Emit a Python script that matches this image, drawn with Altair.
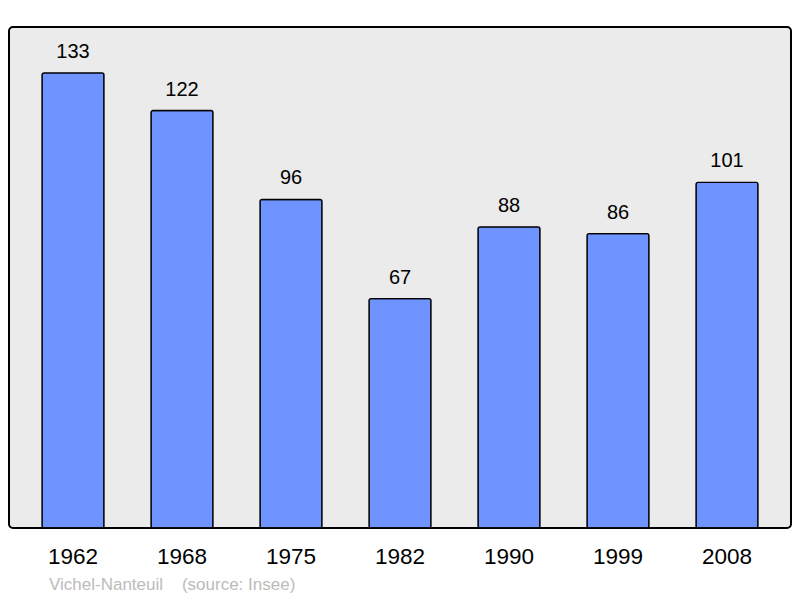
import altair as alt
import pandas as pd

years = ["1962", "1968", "1975", "1982", "1990", "1999", "2008"]
population = [133, 122, 96, 67, 88, 86, 101]
source_text = "Vichel-Nanteuil\u00a0\u00a0\u00a0\u00a0(source: Insee)"

df = pd.DataFrame({"year": years, "pop": population})

x = alt.X("year:N", sort=years, title=None,
          scale=alt.Scale(paddingInner=0.433, paddingOuter=0.29, round=True, align=0.5),
          axis=alt.Axis(labelAngle=0, ticks=False, domain=False, labelFontSize=22.5,
                        labelFont="Liberation Sans", labelColor="black", labelPadding=17))
y = alt.Y("pop:Q", title=None, scale=alt.Scale(domain=[0, 146.4], nice=False, zero=True),
          axis=None)

bars = alt.Chart(df).mark_bar(color="#7094FF", stroke="black", strokeWidth=1.3,
                              cornerRadius=2).encode(x=x, y=y)
labels = alt.Chart(df).mark_text(dy=-15, baseline="alphabetic", fontSize=20,
                                 font="Liberation Sans", color="black").encode(
    x=x, y=y, text="pop:Q")
src = alt.Chart(pd.DataFrame({"t": [source_text]})).mark_text(
    align="left", baseline="alphabetic", fontSize=17, font="Liberation Sans",
    color="#BBBBBB").encode(x=alt.value(40), y=alt.value(563), text="t:N")

chart = (bars + labels + src).properties(
    width=782, height=501,
    autosize=alt.AutoSizeParams(type="none"),
    padding={"left": 1, "top": 19, "right": 1, "bottom": 70},
).configure_view(fill="#EBEBEB", stroke="black", strokeWidth=2, cornerRadius=4)

chart.save("out.html", embed_options={"renderer": "svg", "actions": False})
